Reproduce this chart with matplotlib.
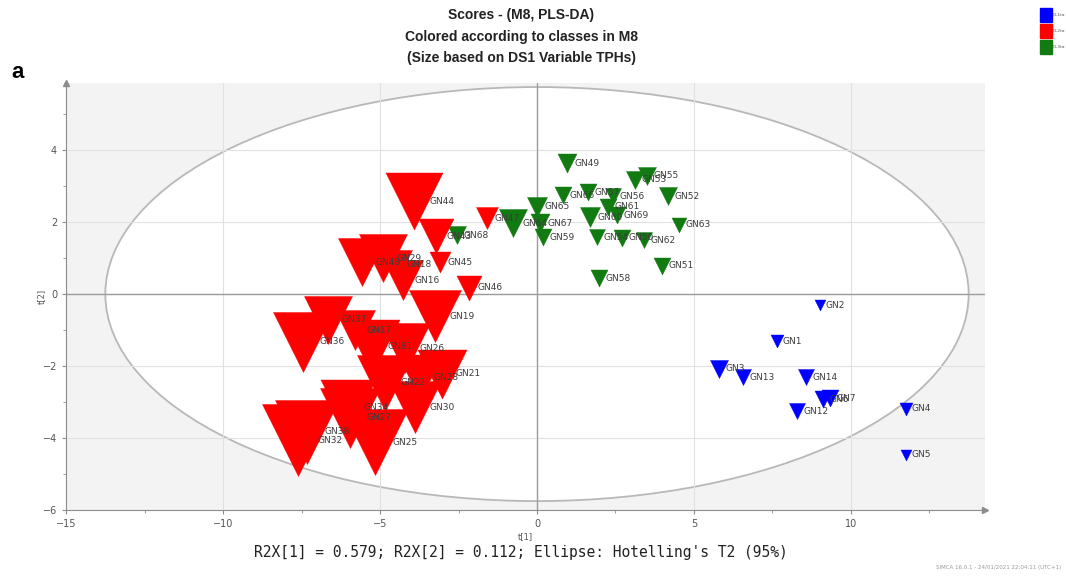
#!/usr/bin/env python3
# -*- coding: UTF-8 -*-
"""PLS-DA score plot (t[1] vs t[2]) for model M8, coloured by class,
marker size scaled by the DS1 variable TPHs."""
import matplotlib.pyplot as plt
from matplotlib.patches import Ellipse, Rectangle

## -- begin inputs --
# class CL1ta
cl1_names = ["GN2", "GN1", "GN3", "GN13", "GN14", "GN6", "GN7", "GN12", "GN4", "GN5"]
cl1_t1 = [9.01, 7.64, 5.80, 6.56, 8.57, 9.11, 9.33, 8.28, 11.75, 11.75]
cl1_t2 = [-0.31, -1.31, -2.08, -2.31, -2.31, -2.92, -2.89, -3.25, -3.19, -4.47]
cl1_tph = [11, 13, 18, 16, 16, 17, 17, 16, 13, 11]

# class CL2ta
cl2_names = [
    "GN44", "GN43", "GN47", "GN45", "GN46", "GN48", "GN29", "GN18", "GN16",
    "GN19", "GN37", "GN36", "GN17", "GN81", "GN26", "GN21", "GN28", "GN22",
    "GN30", "GN34", "GN27", "GN25", "GN38", "GN32",
]
cl2_t1 = [
    -3.92, -3.22, -1.59, -3.09, -2.17, -5.57, -4.90, -4.46, -4.27,
    -3.25, -6.66, -7.45, -5.80, -5.25, -4.20, -3.03, -3.73, -4.84,
    -3.89, -6.02, -5.96, -5.16, -7.32, -7.61,
]
cl2_t2 = [
    2.58, 1.61, 2.11, 0.89, 0.17, 0.89, 1.00, 0.81, 0.39,
    -0.61, -0.72, -1.33, -1.00, -1.47, -1.50, -2.22, -2.31, -2.47,
    -3.14, -3.14, -3.44, -4.11, -3.83, -4.06,
]
cl2_tph = [
    57, 35, 22, 21, 25, 48, 48, 30, 40,
    52, 48, 60, 40, 55, 50, 49, 45, 56,
    52, 55, 60, 66, 64, 72,
]

# class CL3ta
cl3_names = [
    "GN49", "GN53", "GN55", "GN52", "GN66", "GN57", "GN56", "GN61", "GN69",
    "GN60", "GN63", "GN65", "GN67", "GN59", "GN64", "GN68", "GN54", "GN50",
    "GN62", "GN51", "GN58",
]
cl3_t1 = [
    0.96, 3.12, 3.50, 4.17, 0.83, 1.62, 2.42, 2.26, 2.55,
    1.69, 4.52, 0.00, 0.10, 0.19, -0.76, -2.55, 1.91, 2.71,
    3.41, 3.98, 1.97,
]
cl3_t2 = [
    3.64, 3.17, 3.28, 2.72, 2.75, 2.83, 2.72, 2.42, 2.19,
    2.14, 1.92, 2.42, 1.97, 1.58, 1.97, 1.64, 1.58, 1.56,
    1.50, 0.78, 0.44,
]
cl3_tph = [
    19, 18, 18, 18, 17, 17, 16, 17, 17,
    20, 15, 20, 19, 17, 28, 18, 16, 17,
    16, 17, 17,
]

class_labels = ["CL1ta", "CL2ta", "CL3ta"]
class_colors = ["#0000ff", "#ff0000", "#117a11"]
r2x = [0.579, 0.112]
## -- end inputs ----


def draw_class(ax, names, t1, t2, tph, color):
    for n, x, y, v in zip(names, t1, t2, tph):
        ms = 0.72 * v  # marker size in points
        ax.scatter(x, y, s=ms ** 2, marker="v", color=color,
                   edgecolors=color, linewidths=0.3, zorder=3)
        ax.annotate(n, (x, y), xytext=(2 + 0.23 * ms, 0),
                    textcoords="offset points", va="center", ha="left",
                    fontsize=6.5, color="#3c3c3c", zorder=4)


def main():
    fig = plt.figure(figsize=(10.66, 5.77), dpi=100)
    ax = fig.add_axes([0.062, 0.116, 0.862, 0.74])
    ax.set_facecolor("#f3f3f3")

    # Hotelling's T2 (95%) ellipse
    ax.add_patch(Ellipse((0, 0), 27.5, 11.5, facecolor="white",
                         edgecolor="#b8b8b8", linewidth=1.3, zorder=0.5))

    ax.set_xlim(-15, 14.27)
    ax.set_ylim(-6, 5.86)
    ax.set_xticks([-15, -10, -5, 0, 5, 10])
    ax.set_yticks([-6, -4, -2, 0, 2, 4])
    ax.set_xticks([-12.5, -7.5, -2.5, 2.5, 7.5, 12.5], minor=True)
    ax.set_yticks([-5, -3, -1, 1, 3, 5], minor=True)
    ax.grid(True, which="major", color="#e1e1e1", linewidth=0.8)
    ax.axhline(0, color="#9c9c9c", linewidth=1.0, zorder=1.6)
    ax.axvline(0, color="#9c9c9c", linewidth=1.0, zorder=1.6)

    for s in ["top", "right"]:
        ax.spines[s].set_visible(False)
    for s in ["left", "bottom"]:
        ax.spines[s].set_color("#8c8c8c")
    ax.tick_params(which="both", colors="#8c8c8c", labelcolor="#555555",
                   labelsize=7, direction="out")
    ax.tick_params(which="major", length=3)
    ax.tick_params(which="minor", length=2)
    ax.plot([1], [0], marker=">", color="#8c8c8c", ms=5,
            transform=ax.transAxes, clip_on=False)
    ax.plot([0], [1], marker="^", color="#8c8c8c", ms=5,
            transform=ax.transAxes, clip_on=False)
    ax.set_xlabel("t[1]", fontsize=6, color="#555555", labelpad=2)
    ax.set_ylabel("t[2]", fontsize=6, color="#555555")
    ax.yaxis.set_label_coords(-0.022, 0.5)

    draw_class(ax, cl3_names, cl3_t1, cl3_t2, cl3_tph, class_colors[2])
    draw_class(ax, cl2_names, cl2_t1, cl2_t2, cl2_tph, class_colors[1])
    draw_class(ax, cl1_names, cl1_t1, cl1_t2, cl1_tph, class_colors[0])

    # titles
    tfont = dict(family=["Liberation Sans Narrow", "Liberation Sans"],
                 weight="bold", fontsize=10, ha="center", va="center",
                 color="#222222")
    fig.text(0.489, 1 - 15 / 577, "Scores - (M8, PLS-DA)", **tfont)
    fig.text(0.489, 1 - 37 / 577, "Colored according to classes in M8", **tfont)
    fig.text(0.489, 1 - 58 / 577, "(Size based on DS1 Variable TPHs)", **tfont)
    fig.text(0.011, 1 - 73 / 577, "a", family="Liberation Sans",
             weight="bold", fontsize=16, va="center", ha="left")

    # class legend
    for i, (lb, c) in enumerate(zip(class_labels, class_colors)):
        y0 = 1 - (22 + 16 * i) / 577
        fig.add_artist(Rectangle((1040 / 1066, y0), 12 / 1066, 14 / 577,
                                 transform=fig.transFigure, color=c))
        fig.text(1053 / 1066, y0 + 7 / 577, lb, fontsize=3.2,
                 color="#555555", va="center", ha="left")

    fig.text(0.489, 1 - 553 / 577,
             "R2X[1] = %.3f; R2X[2] = %.3f; Ellipse: Hotelling's T2 (95%%)"
             % (r2x[0], r2x[1]),
             family="DejaVu Sans Mono", fontsize=10.5, ha="center",
             va="center", color="#222222")
    fig.text(0.995, 1 - 567 / 577,
             "SIMCA 16.0.1 - 24/01/2021 22:04:11 (UTC+1)",
             fontsize=4, color="#9a9a9a", ha="right", va="center")

    fig.savefig("out.png", dpi=100)


if __name__ == "__main__":
    main()
